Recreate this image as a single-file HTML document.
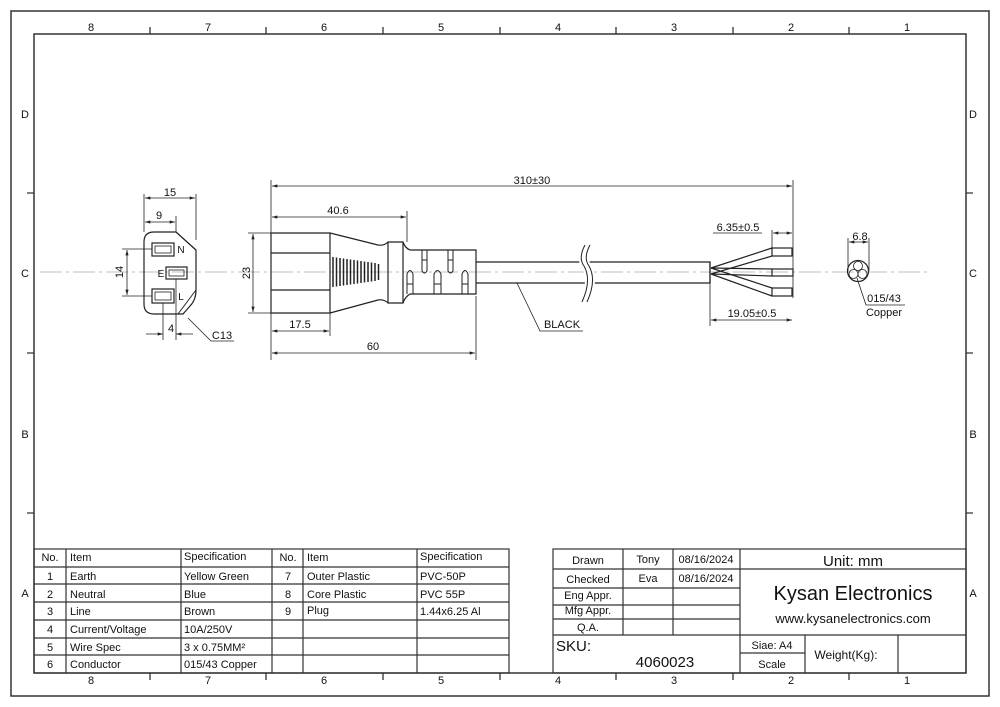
<!DOCTYPE html>
<html><head><meta charset="utf-8"><style>
html,body{margin:0;padding:0;background:#fff}
svg{display:block}
text{font-family:"Liberation Sans",Arial,sans-serif;fill:#111}
</style></head><body>
<svg width="1000" height="707" viewBox="0 0 1000 707" xmlns="http://www.w3.org/2000/svg">
<defs>
<marker id="a" viewBox="0 0 10 6" refX="10" refY="3" markerWidth="7" markerHeight="4" orient="auto-start-reverse"><path d="M0,0 L10,3 L0,6z" fill="#222"/></marker>
</defs>
<g fill="none" stroke="#333" stroke-width="1.5">
<rect x="11" y="11" width="978" height="685"/>
<rect x="34" y="34" width="932" height="639"/>
</g>
<g stroke="#333" stroke-width="1.3">
<path d="M150 27V34M266 27V34M383 27V34M500 27V34M616 27V34M733 27V34M849 27V34"/>
<path d="M150 673V680M266 673V680M383 673V680M500 673V680M616 673V680M733 673V680M849 673V680"/>
<path d="M27 193H34M27 353H34M27 513H34M966 193H973M966 353H973M966 513H973"/>
</g>
<g font-size="11" text-anchor="middle">
<text x="91" y="31">8</text><text x="208" y="31">7</text><text x="324" y="31">6</text><text x="441" y="31">5</text><text x="558" y="31">4</text><text x="674" y="31">3</text><text x="791" y="31">2</text><text x="907" y="31">1</text>
<text x="91" y="684">8</text><text x="208" y="684">7</text><text x="324" y="684">6</text><text x="441" y="684">5</text><text x="558" y="684">4</text><text x="674" y="684">3</text><text x="791" y="684">2</text><text x="907" y="684">1</text>
<text x="25" y="118">D</text><text x="25" y="277">C</text><text x="25" y="438">B</text><text x="25" y="597">A</text>
<text x="973" y="118">D</text><text x="973" y="277">C</text><text x="973" y="438">B</text><text x="973" y="597">A</text>
</g>
<!-- center line -->
<line x1="40" y1="272" x2="930" y2="272" stroke="#aaa" stroke-width="0.8" stroke-dasharray="22,4,3,4"/>

<g fill="none" stroke="#222" stroke-width="1.2">
<!-- C13 connector face -->
<path d="M154 232H176L196 250V290Q196 300 190 306L183 314H154Q144 314 144 304V242Q144 232 154 232Z"/>
<path d="M176 232L196 250M196 290L178 314" stroke-width="1"/>
<rect x="152" y="243" width="22" height="13"/><rect x="155" y="246" width="16" height="7" stroke-width="0.8"/>
<rect x="166" y="267" width="21" height="12"/><rect x="169" y="270" width="15" height="6" stroke-width="0.8"/>
<rect x="152" y="289" width="22" height="14"/><rect x="155" y="292" width="16" height="8" stroke-width="0.8"/>
<g stroke-width="0.8">
<path d="M144 194V232M196 194V240M144 215V232M176 216V232"/>
<line x1="145" y1="198" x2="195" y2="198" marker-start="url(#a)" marker-end="url(#a)"/>
<line x1="145" y1="222" x2="175" y2="222" marker-start="url(#a)" marker-end="url(#a)"/>
<path d="M122 249H152M122 296H152"/>
<line x1="127" y1="250" x2="127" y2="295" marker-start="url(#a)" marker-end="url(#a)"/>
<path d="M163 303V340M176 279V340"/>
<line x1="146" y1="334" x2="163" y2="334" marker-end="url(#a)"/>
<line x1="193" y1="334" x2="176" y2="334" marker-end="url(#a)"/>
<path d="M188 318L211 341H234"/>
</g>
<!-- plug -->
<path d="M271 233H330V313H271Z"/>
<path d="M271 253H330M271 290H330"/>
<path d="M330 233L378 245Q384 246 388 242H403Q405 248 410 250H476V294H410Q405 297 403 303H388Q384 299 378 300L330 313"/>
<path d="M388 242V303M403 242V303"/>
<g stroke-width="1.5">
<path d="M333 257V287M336.5 257.5V286.5M340 258V286M343.5 258.5V285.5M347 259V285M350.5 259.5V284.5M354 260V284M357.5 260.5V283.5M361 261V283M364.5 261.5V282.5M368 262V282M371.5 262.5V281.5M375 263V281M378.5 264V280"/>
</g>
<g stroke-width="1">
<path d="M422 250V271Q424.5 275 427 271V250M422 260H427"/>
<path d="M448 250V271Q450.5 275 453 271V250M448 260H453"/>
<path d="M407 294V274Q410 267 413 274V294M407 284H413"/>
<path d="M434 294V274Q437.5 267 441 274V294M434 284H441"/>
<path d="M462 294V274Q465 267 468 274V294M462 284H468"/>
</g>
<!-- cable -->
<path d="M476 262H710V283H476"/>
<path d="M710 262V283"/>
<path d="M585 245Q578 258 584 266Q592 280 582 302M590 245Q583 258 589 266Q597 280 587 302" stroke="#fff" stroke-width="5"/>
<path d="M585 245Q578 258 584 266Q592 280 582 302M590 245Q583 258 589 266Q597 280 587 302" stroke-width="1"/>
<!-- wires -->
<path d="M711 268L772 248M711 274L772 256"/>
<path d="M711 268L772 269M711 274L772 276"/>
<path d="M711 268L772 288M711 274L772 296"/>
<rect x="772" y="248" width="20" height="8"/>
<rect x="772" y="269" width="21" height="7"/>
<rect x="772" y="288" width="20" height="8"/>
<!-- dims -->
<g stroke-width="0.8">
<path d="M271 180V233M793 180V298M407 211V242M476 296V360M271 313V360M330 313V336M248 233H271M248 313H271"/>
<line x1="272" y1="186" x2="792" y2="186" marker-start="url(#a)" marker-end="url(#a)"/>
<line x1="272" y1="217" x2="406" y2="217" marker-start="url(#a)" marker-end="url(#a)"/>
<line x1="272" y1="331" x2="329" y2="331" marker-start="url(#a)" marker-end="url(#a)"/>
<line x1="272" y1="353" x2="475" y2="353" marker-start="url(#a)" marker-end="url(#a)"/>
<line x1="253" y1="234" x2="253" y2="312" marker-start="url(#a)" marker-end="url(#a)"/>
<path d="M772 230V248M710 283V326M713 233H762"/>
<line x1="773" y1="233" x2="792" y2="233" marker-start="url(#a)" marker-end="url(#a)"/>
<line x1="711" y1="320" x2="792" y2="320" marker-start="url(#a)" marker-end="url(#a)"/>
<path d="M517 283L540 331H583"/>
<!-- cross-section -->
<circle cx="858" cy="271" r="10.5" stroke-width="1.2"/>
<circle cx="858" cy="266" r="4.5"/><circle cx="853.5" cy="274" r="4.5"/><circle cx="862.5" cy="274" r="4.5"/>
<path d="M848 238V271M869 238V271"/>
<line x1="849" y1="242" x2="868" y2="242" marker-start="url(#a)" marker-end="url(#a)"/>
<path d="M857 278L866 305H905"/>
</g>
</g>
<g font-size="11" text-anchor="middle">
<text x="170" y="196">15</text><text x="159" y="219">9</text>
<text x="181" y="253" font-size="10">N</text><text x="161" y="277" font-size="10">E</text><text x="181" y="300" font-size="10">L</text>
<text x="171" y="332">4</text><text x="222" y="339">C13</text>
<text transform="translate(123 272) rotate(-90)">14</text>
<text transform="translate(250 273) rotate(-90)">23</text>
<text x="532" y="184">310±30</text><text x="338" y="214">40.6</text><text x="300" y="328">17.5</text><text x="373" y="350">60</text>
<text x="738" y="231">6.35±0.5</text><text x="752" y="317">19.05±0.5</text>
<text x="562" y="328">BLACK</text>
<text x="860" y="240">6.8</text><text x="884" y="302">015/43</text><text x="884" y="316">Copper</text>
</g>
<!-- left table -->
<g fill="none" stroke="#333" stroke-width="1.2">
<rect x="34" y="549" width="475" height="124"/>
<path d="M34 567H509M34 584H509M34 602H509M34 620H509M34 638H509M34 655H509"/>
<path d="M66 549V673M181 549V673M272 549V673M303 549V673M417 549V673"/>
</g>
<g font-size="11">
<g text-anchor="middle"><text x="50" y="561">No.</text><text x="50" y="580">1</text><text x="50" y="598">2</text><text x="50" y="615">3</text><text x="50" y="633">4</text><text x="50" y="651">5</text><text x="50" y="668">6</text>
<text x="288" y="561">No.</text><text x="288" y="580">7</text><text x="288" y="598">8</text><text x="288" y="615">9</text></g>
<text x="70" y="561">Item</text><text x="70" y="580">Earth</text><text x="70" y="598">Neutral</text><text x="70" y="615">Line</text><text x="70" y="633">Current/Voltage</text><text x="70" y="651">Wire Spec</text><text x="70" y="668">Conductor</text>
<text x="184" y="560">Specification</text><text x="184" y="580">Yellow Green</text><text x="184" y="598">Blue</text><text x="184" y="615">Brown</text><text x="184" y="633">10A/250V</text><text x="184" y="651">3 x 0.75MM²</text><text x="184" y="668">015/43 Copper</text>
<text x="307" y="561">Item</text><text x="307" y="580">Outer Plastic</text><text x="307" y="598">Core Plastic</text><text x="307" y="614">Plug</text>
<text x="420" y="560">Specification</text><text x="420" y="580">PVC-50P</text><text x="420" y="598">PVC 55P</text><text x="420" y="615">1.44x6.25 Al</text>
</g>
<!-- right table -->
<g fill="none" stroke="#333" stroke-width="1.2">
<rect x="553" y="549" width="413" height="124"/>
<path d="M553 569H966M553 588H740M553 605H740M553 619H740M553 635H966M740 653H805"/>
<path d="M623 549V635M673 549V635M740 549V673M805 635V673M898 635V673"/>
</g>
<g font-size="11" text-anchor="middle">
<text x="588" y="564">Drawn</text><text x="648" y="563">Tony</text><text x="706" y="563">08/16/2024</text>
<text x="588" y="583">Checked</text><text x="648" y="582">Eva</text><text x="706" y="582">08/16/2024</text>
<text x="588" y="599">Eng Appr.</text><text x="588" y="614">Mfg Appr.</text><text x="588" y="631">Q.A.</text>
<text x="853" y="566" font-size="15">Unit: mm</text>
<text x="853" y="600" font-size="20">Kysan Electronics</text>
<text x="853" y="623" font-size="13">www.kysanelectronics.com</text>
<text x="772" y="649">Siae: A4</text><text x="772" y="668">Scale</text>
<text x="846" y="659" font-size="12">Weight(Kg):</text>
<text x="665" y="667" font-size="15">4060023</text>
</g>
<text x="556" y="651" font-size="15">SKU:</text>
</svg>
</body></html>
